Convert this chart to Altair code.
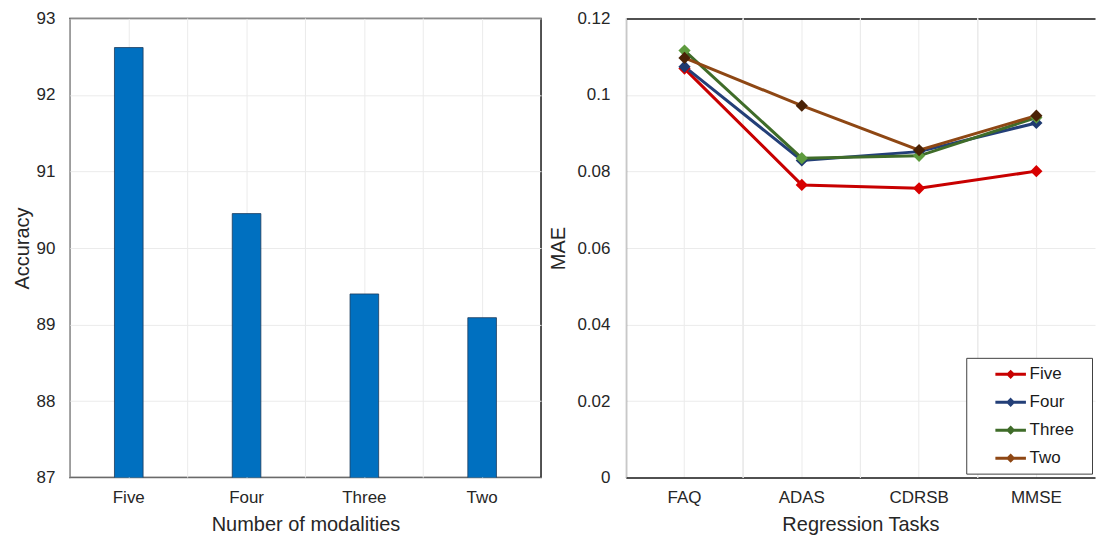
import altair as alt
import pandas as pd

# ---- data ----
modalities = ["Five", "Four", "Three", "Two"]
accuracy = [92.62, 90.45, 89.40, 89.09]

tasks = ["FAQ", "ADAS", "CDRSB", "MMSE"]
series = ["Five", "Four", "Three", "Two"]
mae_five = [0.1069, 0.0765, 0.0756, 0.0801]
mae_four = [0.1074, 0.0829, 0.0852, 0.0927]
mae_three = [0.1116, 0.0835, 0.0841, 0.0941]
mae_two = [0.1097, 0.0972, 0.0856, 0.0946]

line_colors = ["#C80000", "#233F78", "#3F6C29", "#8E4714"]
marker_colors = ["#D80000", "#1F3A70", "#5E9B3E", "#4A2206"]

acc_ticks = [87, 88, 89, 90, 91, 92, 93]
mae_ticks = [0, 0.02, 0.04, 0.06, 0.08, 0.1, 0.12]

FONT = "Liberation Sans"
H = 460
WL = 472
WR = 470
GRID = "#ebebeb"
DARK = "#1a1a1a"

df_acc = pd.DataFrame({"m": modalities, "acc": accuracy})

rows = []
for s, vals in zip(series, [mae_five, mae_four, mae_three, mae_two]):
    for t, v in zip(tasks, vals):
        rows.append({"task": t, "series": s, "mae": v})
df_mae = pd.DataFrame(rows)

# ---- left chart ----
xscale_l = alt.Scale(type="band", paddingInner=0, paddingOuter=0)
xaxis_l = alt.Axis(title="Number of modalities", labelAngle=0, grid=True,
                   gridColor=GRID, ticks=False, tickSize=0, domain=False,
                   labelPadding=12, titlePadding=9)
y_l = alt.Y(
    "acc:Q",
    scale=alt.Scale(domain=[87, 93], nice=False, zero=False),
    axis=alt.Axis(values=acc_ticks, title="Accuracy", grid=True, gridColor=GRID,
                  ticks=False, tickSize=0, domain=False, labelPadding=15, titlePadding=4),
)
grid_l = alt.Chart(df_acc).mark_rule(color=GRID, strokeWidth=1).encode(
    x=alt.X("m:N", sort=modalities, scale=xscale_l, bandPosition=0, axis=xaxis_l)
)
bars = alt.Chart(df_acc).mark_bar(
    width=alt.RelativeBandSize(0.243), color="#0070C0", stroke="#1d3b5c",
    strokeWidth=0.8, clip=True
).encode(x=alt.X("m:N", sort=modalities, scale=xscale_l, axis=xaxis_l), y=y_l)
left = alt.layer(grid_l, bars).properties(width=WL, height=H)

# ---- right chart ----
xscale_r = alt.Scale(type="band", paddingInner=0, paddingOuter=0)
y_r = alt.Y(
    "mae:Q",
    scale=alt.Scale(domain=[0, 0.12], nice=False),
    axis=alt.Axis(values=mae_ticks,
                  labelExpr="datum.value == 0 ? '0' : format(datum.value, '.2~f')",
                  title="MAE", grid=True, gridColor=GRID,
                  ticks=False, tickSize=0, domain=True, domainColor=DARK, domainWidth=1.5,
                  labelPadding=16, titlePadding=8),
)
grid_r = alt.Chart(df_mae).mark_rule(color=GRID, strokeWidth=1).encode(
    x=alt.X("task:N", sort=tasks, scale=xscale_r, bandPosition=0,
            axis=alt.Axis(orient="top", labels=False, ticks=False, tickSize=0, grid=False,
                          domain=True, domainColor=DARK, domainWidth=1.5, title=None))
)
x_r = alt.X("task:N", sort=tasks, scale=xscale_r,
            axis=alt.Axis(title="Regression Tasks", labelAngle=0, grid=True, gridColor=GRID,
                          ticks=False, tickSize=0, domain=True, domainColor=DARK,
                          domainWidth=1.5, labelPadding=12, titlePadding=9))
LEG_X = WL + 87 + WR - 131
lines = alt.Chart(df_mae).mark_line(strokeWidth=3).encode(
    x=x_r,
    y=y_r,
    color=alt.Color(
        "series:N", sort=series,
        scale=alt.Scale(domain=series, range=line_colors),
        legend=alt.Legend(
            title=" ", titleOrient="right", titlePadding=12, titleFontSize=17,
            orient="none", legendX=LEG_X, legendY=H - 6 - 114,
            symbolType="M-1.8,0H1.8M0,-0.3L0.3,0L0,0.3L-0.3,0Z",
            symbolSize=289, symbolStrokeWidth=3,
            symbolOffset=28, labelOffset=9, rowPadding=9, padding=6.5,
            labelFontSize=17, labelFont=FONT, labelColor="#1a1a1a",
            strokeColor="#404040", fillColor="white",
        ),
    ),
)
points = alt.Chart(df_mae).mark_point(shape="diamond", filled=True, size=150, opacity=1).encode(
    x=alt.X("task:N", sort=tasks, scale=xscale_r, axis=None),
    y=y_r,
    fill=alt.Fill("series:N", sort=series,
                  scale=alt.Scale(domain=series, range=marker_colors), legend=None),
)
right = alt.layer(grid_r, lines, points, view=alt.ViewBackground(stroke="transparent")).resolve_axis(
    x="independent"
).properties(width=WR, height=H)

chart = alt.hconcat(left, right, spacing=6).properties(
    padding={"left": 3, "top": 0, "right": 0, "bottom": 0}
).configure_view(
    stroke=DARK, strokeWidth=1.5
).configure_axis(
    labelFont=FONT, titleFont=FONT, labelFontSize=17, titleFontSize=20,
    titleFontWeight="normal", labelColor="#262626", titleColor="#262626",
)

chart.save("out.html", embed_options={"renderer": "svg", "actions": False})
